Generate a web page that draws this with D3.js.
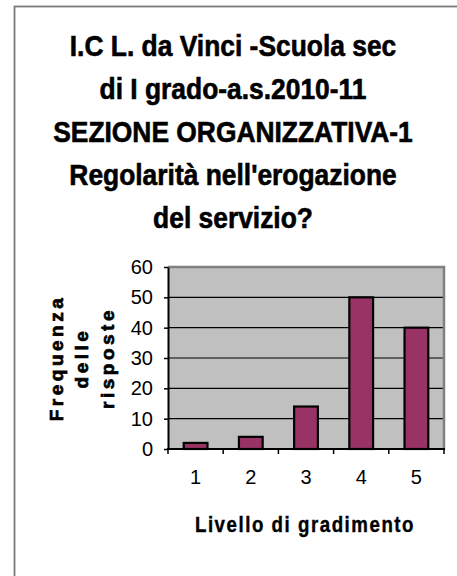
<!DOCTYPE html>
<html>
<head>
<meta charset="utf-8">
<script src="https://cdn.jsdelivr.net/npm/d3@7"></script>
<style>
  body { margin: 0; background: #fff; }
  svg { display: block; font-family: "Liberation Sans", Arial, sans-serif; }
</style>
</head>
<body>
<div id="chart"></div>
<script>
// data
var titleLines = [
    "I.C L. da Vinci -Scuola sec",
    "di I grado-a.s.2010-11",
    "SEZIONE ORGANIZZATIVA-1",
    "Regolarità nell'erogazione",
    "del servizio?"
];
var categories = ["1", "2", "3", "4", "5"];
var values = [2, 4, 14, 50, 40];
var yTicks = [0, 10, 20, 30, 40, 50, 60];
var yTitleLines = ["Frequenza", "delle", "risposte"];
var xTitle = "Livello di gradimento";

var W = 457, H = 576;

var svg = d3.select("#chart").append("svg")
    .attr("width", W)
    .attr("height", H);

// outer frame (only top and left edge are visible)
svg.append("rect")
    .attr("x", 14.5).attr("y", 6.5)
    .attr("width", W + 20).attr("height", H + 20)
    .attr("fill", "#fff")
    .attr("stroke", "#7a7a7a")
    .attr("stroke-width", 1.8);

// title
svg.append("g")
    .selectAll("text")
    .data(titleLines)
    .join("text")
    .attr("transform", (d, i) => "translate(233," + (56 + i * 43) + ") scale(0.91,1)")
    .attr("text-anchor", "middle")
    .style("font-size", "29px")
    .style("font-weight", "bold")
    .attr("fill", "#000")
    .attr("stroke", "#000")
    .attr("stroke-width", 0.6)
    .text(d => d);

// plot area
var plot = {left: 168, right: 444, top: 267, bottom: 449};

var x = d3.scaleBand()
    .domain(categories)
    .range([plot.left, plot.right])
    .padding(0);

var y = d3.scaleLinear()
    .domain([0, 60])
    .range([plot.bottom, plot.top]);

svg.append("rect")
    .attr("x", plot.left).attr("y", plot.top)
    .attr("width", plot.right - plot.left)
    .attr("height", plot.bottom - plot.top)
    .attr("fill", "#c0c0c0");

// gridlines
svg.append("g")
    .selectAll("line")
    .data(yTicks.filter(v => v > 0 && v < 60))
    .join("line")
    .attr("x1", plot.left).attr("x2", plot.right)
    .attr("y1", d => y(d)).attr("y2", d => y(d))
    .attr("stroke", "#000")
    .attr("stroke-width", 1.2);

// gray border top + right
svg.append("path")
    .attr("d", "M" + plot.left + "," + y(60) + "H" + plot.right + "V" + plot.bottom)
    .attr("fill", "none")
    .attr("stroke", "#808080")
    .attr("stroke-width", 2.5);

// bars
var barW = x.bandwidth() * 0.43;
svg.append("g")
    .selectAll("rect")
    .data(values)
    .join("rect")
    .attr("x", (d, i) => x(categories[i]) + (x.bandwidth() - barW) / 2)
    .attr("y", d => y(d))
    .attr("width", barW)
    .attr("height", d => y(0) - y(d))
    .attr("fill", "#993366")
    .attr("stroke", "#000")
    .attr("stroke-width", 2.2);

// y axis
var yAxis = svg.append("g")
    .attr("transform", "translate(" + plot.left + ",0)")
    .call(d3.axisLeft(y).tickValues(yTicks).tickSize(4).tickSizeOuter(0).tickPadding(11));
yAxis.select(".domain").attr("stroke", "#000").attr("stroke-width", 2);
yAxis.selectAll(".tick line").attr("stroke", "#000").attr("stroke-width", 1.5);
yAxis.selectAll("text")
    .style("font-size", "20px")
    .style("font-family", "'Liberation Sans', Arial, sans-serif")
    .attr("fill", "#000");

// x axis: labels at centres, ticks at band edges
var xAxis = svg.append("g")
    .attr("transform", "translate(0," + plot.bottom + ")")
    .call(d3.axisBottom(x).tickSize(0).tickPadding(21));
xAxis.select(".domain").remove();
xAxis.selectAll("text")
    .style("font-size", "20px")
    .style("font-family", "'Liberation Sans', Arial, sans-serif")
    .attr("fill", "#000");

var edges = categories.map(c => x(c)).concat([plot.right]);
svg.append("g")
    .selectAll("line")
    .data(edges)
    .join("line")
    .attr("x1", d => d).attr("x2", d => d)
    .attr("y1", plot.bottom).attr("y2", plot.bottom + 5)
    .attr("stroke", "#000")
    .attr("stroke-width", 1.5);

svg.append("line")
    .attr("x1", plot.left - 1).attr("x2", plot.right + 1)
    .attr("y1", plot.bottom).attr("y2", plot.bottom)
    .attr("stroke", "#000")
    .attr("stroke-width", 2);

// y axis title, three rotated lines
svg.append("g")
    .selectAll("text")
    .data(yTitleLines)
    .join("text")
    .attr("transform", (d, i) => "translate(" + (56 + i * 25.5) + ",358) rotate(-90)")
    .attr("text-anchor", "middle")
    .attr("dy", "0.36em")
    .style("font-size", "19px")
    .style("font-weight", "bold")
    .style("letter-spacing", "3.5px")
    .attr("fill", "#000")
    .attr("stroke", "#000")
    .attr("stroke-width", 0.7)
    .text(d => d);

// x axis title
svg.append("text")
    .attr("transform", "translate(305,532) scale(0.85,1)")
    .attr("text-anchor", "middle")
    .style("font-size", "22px")
    .style("font-weight", "bold")
    .style("letter-spacing", "1.8px")
    .attr("fill", "#000")
    .attr("stroke", "#000")
    .attr("stroke-width", 0.4)
    .text(xTitle);
</script>
</body>
</html>
